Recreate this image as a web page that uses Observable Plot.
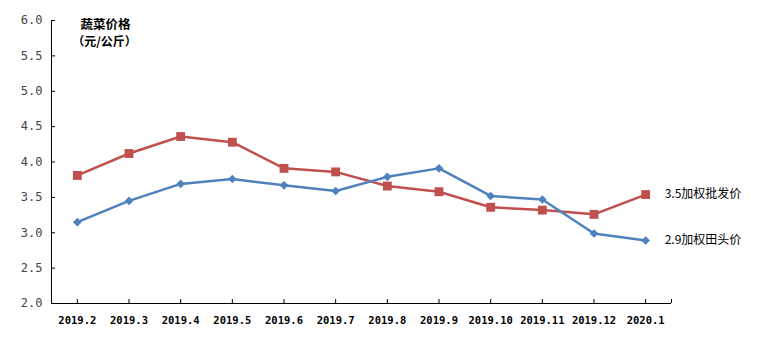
<!DOCTYPE html>
<html>
<head>
<meta charset="utf-8">
<script src="https://cdn.jsdelivr.net/npm/d3@7"></script>
<script src="https://cdn.jsdelivr.net/npm/@observablehq/plot@0.6"></script>
<style>
  html, body { margin: 0; padding: 0; background: #fff; }
  #chart svg { display: block; }
</style>
</head>
<body>
<div id="chart"></div>
<script>
const months = ["2019.2","2019.3","2019.4","2019.5","2019.6","2019.7","2019.8","2019.9","2019.10","2019.11","2019.12","2020.1"];
const wholesale = [3.81, 4.12, 4.36, 4.28, 3.91, 3.86, 3.66, 3.58, 3.36, 3.32, 3.26, 3.54];
const farmgate  = [3.15, 3.45, 3.69, 3.76, 3.67, 3.59, 3.79, 3.91, 3.52, 3.47, 2.99, 2.89];
const seriesNames = ["加权批发价", "加权田头价"];
const endLabels = ["3.5", "2.9"];
const yTicks = [2.0, 2.5, 3.0, 3.5, 4.0, 4.5, 5.0, 5.5, 6.0];
const titleLines = ["蔬菜价格", "（元/公斤）"];

const red = "#C0504D", blue = "#4F81BD";
const idx = months.map((m, i) => i);
const wRows = months.map((m, i) => ({i, month: m, value: wholesale[i]}));
const fRows = months.map((m, i) => ({i, month: m, value: farmgate[i]}));
const n = months.length;
const endRows = [
  {i: n - 1, value: wholesale[n - 1], text: endLabels[0] + seriesNames[0]},
  {i: n - 1, value: farmgate[n - 1], text: endLabels[1] + seriesNames[1]}
];
const xTickPos = idx.concat([n - 0.5]);

const chart = Plot.plot({
  width: 760,
  height: 351,
  marginTop: 20,
  marginBottom: 48,
  marginLeft: 51,
  marginRight: 89,
  style: {background: "#fff", overflow: "visible"},
  x: {type: "linear", domain: [-0.5, n - 0.5]},
  y: {domain: [2, 6]},
  marks: [
    Plot.axisY({
      ticks: yTicks, tickSize: 0, tickPadding: 9,
      tickFormat: d => d.toFixed(1), label: null,
      fontFamily: "DejaVu Sans Mono", fontSize: 12, fill: "#444"
    }),
    Plot.axisX({
      ticks: idx, tickSize: 0, tickPadding: 13, label: null,
      tickFormat: i => months[i],
      fontFamily: "DejaVu Sans Mono", fontSize: 10.5, fontWeight: "bold", fill: "#000"
    }),
    Plot.tickY(yTicks, {y: d => d, stroke: "#000", insetRight: 616}),
    Plot.tickX(xTickPos, {x: d => d, stroke: "#000", insetTop: 279}),
    Plot.ruleY([2], {stroke: "#000"}),
    Plot.ruleX([-0.5], {stroke: "#000"}),
    Plot.line(wRows, {x: "i", y: "value", stroke: red, strokeWidth: 2.5}),
    Plot.line(fRows, {x: "i", y: "value", stroke: blue, strokeWidth: 2.5}),
    Plot.dot(wRows, {x: "i", y: "value", symbol: "square", r: 5, fill: red, stroke: "none"}),
    Plot.dot(fRows, {x: "i", y: "value", symbol: "diamond2", r: 3.9, fill: blue, stroke: "none"}),
    Plot.text(endRows, {x: "i", y: "value", text: "text", textAnchor: "start", dx: 19,
      fontFamily: "Noto Sans CJK SC", fontSize: 12, fill: "#000"}),
    Plot.text([titleLines[0]], {frameAnchor: "top-left", dx: 54, dy: 0, textAnchor: "middle",
      fontFamily: "Noto Sans CJK SC", fontSize: 12.5, fontWeight: "bold", fill: "#000"}),
    Plot.text([titleLines[1]], {frameAnchor: "top-left", dx: 53, dy: 17, textAnchor: "middle",
      fontFamily: "Noto Sans CJK SC", fontSize: 12, fontWeight: "bold", fill: "#000"})
  ]
});
document.getElementById("chart").appendChild(chart);
</script>
</body>
</html>
